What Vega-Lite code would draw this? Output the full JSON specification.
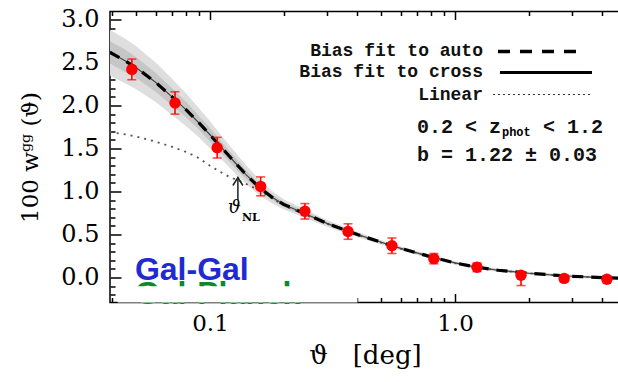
{
  "$schema": "https://vega.github.io/schema/vega-lite/v6.json",
  "width": 510,
  "height": 291,
  "autosize": {"type": "none"},
  "padding": {"left": 110, "top": 11.5, "right": 0, "bottom": 80},
  "background": "white",
  "config": {
    "view": {"stroke": "black", "strokeWidth": 1.5},
    "axis": {"domain": false, "grid": false, "tickColor": "black", "tickWidth": 1.5, "labelColor": "black", "titleColor": "black", "zindex": 1}
  },
  "datasets": {
    "curve": [
      {"theta": 0.039, "w": 2.62, "lo2": 2.35, "hi2": 2.88, "lo1": 2.49, "hi1": 2.75, "lin": 1.69},
      {"theta": 0.045, "w": 2.52, "lo2": 2.26, "hi2": 2.78, "lo1": 2.39, "hi1": 2.65, "lin": 1.665},
      {"theta": 0.05, "w": 2.44, "lo2": 2.19, "hi2": 2.69, "lo1": 2.32, "hi1": 2.56, "lin": 1.64},
      {"theta": 0.06, "w": 2.27, "lo2": 2.04, "hi2": 2.5, "lo1": 2.16, "hi1": 2.38, "lin": 1.58},
      {"theta": 0.07, "w": 2.1, "lo2": 1.89, "hi2": 2.31, "lo1": 2.0, "hi1": 2.2, "lin": 1.52},
      {"theta": 0.08, "w": 1.95, "lo2": 1.76, "hi2": 2.14, "lo1": 1.86, "hi1": 2.04, "lin": 1.46},
      {"theta": 0.09, "w": 1.8, "lo2": 1.63, "hi2": 1.97, "lo1": 1.72, "hi1": 1.88, "lin": 1.39},
      {"theta": 0.1, "w": 1.66, "lo2": 1.5, "hi2": 1.82, "lo1": 1.58, "hi1": 1.74, "lin": 1.3},
      {"theta": 0.11, "w": 1.53, "lo2": 1.39, "hi2": 1.67, "lo1": 1.46, "hi1": 1.6, "lin": 1.23},
      {"theta": 0.12, "w": 1.41, "lo2": 1.28, "hi2": 1.54, "lo1": 1.35, "hi1": 1.47, "lin": 1.17},
      {"theta": 0.13, "w": 1.3, "lo2": 1.18, "hi2": 1.42, "lo1": 1.24, "hi1": 1.36, "lin": 1.13},
      {"theta": 0.14, "w": 1.2, "lo2": 1.09, "hi2": 1.31, "lo1": 1.15, "hi1": 1.25, "lin": 1.09},
      {"theta": 0.16, "w": 1.04, "lo2": 0.95, "hi2": 1.13, "lo1": 1.0, "hi1": 1.08, "lin": 1.01},
      {"theta": 0.18, "w": 0.93, "lo2": 0.86, "hi2": 1.0, "lo1": 0.9, "hi1": 0.96, "lin": 0.92},
      {"theta": 0.2, "w": 0.85, "lo2": 0.79, "hi2": 0.91, "lo1": 0.82, "hi1": 0.88, "lin": 0.84},
      {"theta": 0.25, "w": 0.73, "lo2": 0.68, "hi2": 0.78, "lo1": 0.705, "hi1": 0.755, "lin": 0.72},
      {"theta": 0.3, "w": 0.63, "lo2": 0.59, "hi2": 0.67, "lo1": 0.61, "hi1": 0.65, "lin": 0.625},
      {"theta": 0.35, "w": 0.56, "lo2": 0.525, "hi2": 0.595, "lo1": 0.545, "hi1": 0.575, "lin": 0.555},
      {"theta": 0.4, "w": 0.5, "lo2": 0.47, "hi2": 0.53, "lo1": 0.485, "hi1": 0.515, "lin": 0.495},
      {"theta": 0.5, "w": 0.41, "lo2": 0.385, "hi2": 0.435, "lo1": 0.397, "hi1": 0.423, "lin": 0.405},
      {"theta": 0.6, "w": 0.34, "lo2": 0.315, "hi2": 0.365, "lo1": 0.328, "hi1": 0.352, "lin": 0.336},
      {"theta": 0.8, "w": 0.24, "lo2": 0.218, "hi2": 0.262, "lo1": 0.229, "hi1": 0.251, "lin": 0.237},
      {"theta": 1.0, "w": 0.17, "lo2": 0.15, "hi2": 0.19, "lo1": 0.16, "hi1": 0.18, "lin": 0.168},
      {"theta": 1.2, "w": 0.125, "lo2": 0.105, "hi2": 0.145, "lo1": 0.115, "hi1": 0.135, "lin": 0.123},
      {"theta": 1.5, "w": 0.085, "lo2": 0.066, "hi2": 0.104, "lo1": 0.076, "hi1": 0.094, "lin": 0.083},
      {"theta": 2.0, "w": 0.05, "lo2": 0.032, "hi2": 0.068, "lo1": 0.041, "hi1": 0.059, "lin": 0.049},
      {"theta": 2.5, "w": 0.03, "lo2": 0.013, "hi2": 0.047, "lo1": 0.022, "hi1": 0.038, "lin": 0.029},
      {"theta": 3.0, "w": 0.015, "lo2": -0.002, "hi2": 0.032, "lo1": 0.007, "hi1": 0.023, "lin": 0.014},
      {"theta": 4.0, "w": 0.0, "lo2": -0.016, "hi2": 0.016, "lo1": -0.008, "hi1": 0.008, "lin": 0.0},
      {"theta": 4.72, "w": -0.008, "lo2": -0.024, "hi2": 0.008, "lo1": -0.016, "hi1": 0.0, "lin": -0.008}
    ],
    "points": [
      {"theta": 0.048, "w": 2.42, "lo": 2.3, "hi": 2.54},
      {"theta": 0.072, "w": 2.03, "lo": 1.9, "hi": 2.16},
      {"theta": 0.107, "w": 1.51, "lo": 1.39, "hi": 1.63},
      {"theta": 0.161, "w": 1.06, "lo": 0.95, "hi": 1.17},
      {"theta": 0.244, "w": 0.77, "lo": 0.68, "hi": 0.86},
      {"theta": 0.366, "w": 0.535, "lo": 0.445, "hi": 0.625},
      {"theta": 0.553, "w": 0.37, "lo": 0.28, "hi": 0.46},
      {"theta": 0.82, "w": 0.22, "lo": 0.16, "hi": 0.28},
      {"theta": 1.23, "w": 0.12, "lo": 0.07, "hi": 0.17},
      {"theta": 1.86, "w": 0.027, "lo": -0.093, "hi": 0.06},
      {"theta": 2.79, "w": -0.01, "lo": -0.05, "hi": 0.03},
      {"theta": 4.17, "w": -0.02, "lo": -0.06, "hi": 0.02}
    ]
  },
  "resolve": {"axis": {"x": "independent", "y": "independent"}},
  "layer": [
    {
      "data": {"name": "curve"},
      "mark": {"type": "area", "color": "#dedede", "clip": true},
      "encoding": {
        "x": {"field": "theta", "type": "quantitative",
          "scale": {"type": "log", "domain": [0.03908, 4.716], "nice": false},
          "axis": {"orient": "bottom", "values": [0.04,0.05,0.06,0.07,0.08,0.09,0.1,0.2,0.3,0.4,0.5,0.6,0.7,0.8,0.9,1,2,3,4],
            "tickSize": {"condition": {"test": "abs(datum.value-0.1)<0.001 || abs(datum.value-1)<0.001", "value": -9}, "value": -5},
            "labelExpr": "abs(datum.value-0.1)<0.001 ? '0.1' : (abs(datum.value-1)<0.001 ? '1.0' : '')",
            "labelFont": "DejaVu Serif", "labelFontSize": 23, "labelPadding": 19,
            "title": "ϑ\u00a0\u00a0\u00a0[deg]", "titleFont": "DejaVu Serif", "titleFontSize": 26, "titleFontWeight": "normal", "titlePadding": 7}},
        "y": {"field": "lo2", "type": "quantitative",
          "scale": {"domain": [-0.29, 3.093], "nice": false, "zero": false},
          "axis": {"orient": "left", "values": [-0.2,-0.1,0,0.1,0.2,0.3,0.4,0.5,0.6,0.7,0.8,0.9,1,1.1,1.2,1.3,1.4,1.5,1.6,1.7,1.8,1.9,2,2.1,2.2,2.3,2.4,2.5,2.6,2.7,2.8,2.9,3],
            "tickSize": {"condition": {"test": "abs(datum.value*2-round(datum.value*2))<0.01", "value": -11}, "value": -5},
            "labelExpr": "abs(datum.value*2-round(datum.value*2))<0.01 && datum.value>-0.01 ? format(datum.value, '.1f') : ''",
            "labelFont": "DejaVu Serif", "labelFontSize": 24, "labelPadding": 22,
            "title": "100 wᵍᵍ (ϑ)", "titleFont": "DejaVu Serif", "titleFontSize": 23, "titleFontWeight": "normal", "titlePadding": 18}},
        "y2": {"field": "hi2"}
      }
    },
    {
      "data": {"name": "curve"},
      "mark": {"type": "area", "color": "#c6c6c6", "clip": true},
      "encoding": {
        "x": {"field": "theta", "type": "quantitative", "scale": {"type": "log", "domain": [0.03908, 4.716], "nice": false},
          "axis": {"orient": "top", "values": [0.04,0.05,0.06,0.07,0.08,0.09,0.1,0.2,0.3,0.4,0.5,0.6,0.7,0.8,0.9,1,2,3,4],
            "tickSize": {"condition": {"test": "abs(datum.value-0.1)<0.001 || abs(datum.value-1)<0.001", "value": -8}, "value": -4},
            "labels": false, "title": null}},
        "y": {"field": "lo1", "type": "quantitative", "scale": {"domain": [-0.29, 3.093], "nice": false, "zero": false}, "axis": null},
        "y2": {"field": "hi1"}
      }
    },
    {
      "data": {"name": "curve"},
      "mark": {"type": "line", "color": "#555555", "strokeWidth": 1.8, "strokeDash": [2, 5], "clip": true},
      "encoding": {
        "x": {"field": "theta", "type": "quantitative", "scale": {"type": "log", "domain": [0.03908, 4.716], "nice": false}, "axis": null},
        "y": {"field": "lin", "type": "quantitative", "scale": {"domain": [-0.29, 3.093], "nice": false, "zero": false}, "axis": null}
      }
    },
    {
      "data": {"name": "curve"},
      "mark": {"type": "line", "color": "#444444", "strokeWidth": 1.2, "clip": true},
      "encoding": {
        "x": {"field": "theta", "type": "quantitative", "scale": {"type": "log", "domain": [0.03908, 4.716], "nice": false}, "axis": null},
        "y": {"field": "w", "type": "quantitative", "scale": {"domain": [-0.29, 3.093], "nice": false, "zero": false}, "axis": null}
      }
    },
    {
      "data": {"name": "curve"},
      "mark": {"type": "line", "color": "black", "strokeWidth": 3.2, "strokeDash": [11, 8], "clip": true},
      "encoding": {
        "x": {"field": "theta", "type": "quantitative", "scale": {"type": "log", "domain": [0.03908, 4.716], "nice": false}, "axis": null},
        "y": {"field": "w", "type": "quantitative", "scale": {"domain": [-0.29, 3.093], "nice": false, "zero": false}, "axis": null}
      }
    },
    {
      "data": {"name": "points"},
      "mark": {"type": "rule", "color": "#ff0000", "strokeWidth": 1.6},
      "encoding": {
        "x": {"field": "theta", "type": "quantitative", "scale": {"type": "log", "domain": [0.03908, 4.716], "nice": false}, "axis": null},
        "y": {"field": "lo", "type": "quantitative", "scale": {"domain": [-0.29, 3.093], "nice": false, "zero": false}, "axis": null},
        "y2": {"field": "hi"}
      }
    },
    {
      "data": {"name": "points"},
      "mark": {"type": "tick", "color": "#ff0000", "orient": "horizontal", "size": 9, "thickness": 1.6},
      "encoding": {
        "x": {"field": "theta", "type": "quantitative", "scale": {"type": "log", "domain": [0.03908, 4.716], "nice": false}, "axis": null},
        "y": {"field": "lo", "type": "quantitative", "scale": {"domain": [-0.29, 3.093], "nice": false, "zero": false}, "axis": null}
      }
    },
    {
      "data": {"name": "points"},
      "mark": {"type": "tick", "color": "#ff0000", "orient": "horizontal", "size": 9, "thickness": 1.6},
      "encoding": {
        "x": {"field": "theta", "type": "quantitative", "scale": {"type": "log", "domain": [0.03908, 4.716], "nice": false}, "axis": null},
        "y": {"field": "hi", "type": "quantitative", "scale": {"domain": [-0.29, 3.093], "nice": false, "zero": false}, "axis": null}
      }
    },
    {
      "data": {"name": "points"},
      "mark": {"type": "circle", "color": "#ff0000", "size": 130, "opacity": 1},
      "encoding": {
        "x": {"field": "theta", "type": "quantitative", "scale": {"type": "log", "domain": [0.03908, 4.716], "nice": false}, "axis": null},
        "y": {"field": "w", "type": "quantitative", "scale": {"domain": [-0.29, 3.093], "nice": false, "zero": false}, "axis": null}
      }
    },
    {
      "data": {"values": [{"x": 0.13, "y0": 0.9, "y1": 1.163}]},
      "mark": {"type": "rule", "color": "#222222", "strokeWidth": 1.5},
      "encoding": {
        "x": {"field": "x", "type": "quantitative", "scale": {"type": "log", "domain": [0.03908, 4.716], "nice": false}, "axis": null},
        "y": {"field": "y0", "type": "quantitative", "scale": {"domain": [-0.29, 3.093], "nice": false, "zero": false}, "axis": null},
        "y2": {"field": "y1"}
      }
    },
    {
      "data": {"values": [{"x": 0.13, "y": 1.163}]},
      "mark": {"type": "point", "shape": "M-1,1.6L0,0L1,1.6", "size": 100, "filled": false, "stroke": "#222222", "strokeWidth": 1.5, "opacity": 1},
      "encoding": {
        "x": {"field": "x", "type": "quantitative", "scale": {"type": "log", "domain": [0.03908, 4.716], "nice": false}, "axis": null},
        "y": {"field": "y", "type": "quantitative", "scale": {"domain": [-0.29, 3.093], "nice": false, "zero": false}, "axis": null}
      }
    },
    {
      "data": {"values": [{"x": 0.1184, "y": 0.814, "t": "ϑ"}]},
      "mark": {"type": "text", "font": "DejaVu Serif", "fontSize": 18, "fontStyle": "italic", "align": "left", "baseline": "middle", "color": "black"},
      "encoding": {
        "x": {"field": "x", "type": "quantitative", "scale": {"type": "log", "domain": [0.03908, 4.716], "nice": false}, "axis": null},
        "y": {"field": "y", "type": "quantitative", "scale": {"domain": [-0.29, 3.093], "nice": false, "zero": false}, "axis": null},
        "text": {"field": "t"}
      }
    },
    {
      "data": {"values": [{"x": 0.1351, "y": 0.698, "t": "NL"}]},
      "mark": {"type": "text", "font": "DejaVu Serif", "fontSize": 11, "fontWeight": "bold", "align": "left", "baseline": "middle", "color": "black"},
      "encoding": {
        "x": {"field": "x", "type": "quantitative", "scale": {"type": "log", "domain": [0.03908, 4.716], "nice": false}, "axis": null},
        "y": {"field": "y", "type": "quantitative", "scale": {"domain": [-0.29, 3.093], "nice": false, "zero": false}, "axis": null},
        "text": {"field": "t"}
      }
    },
    {
      "data": {"values": [{"x": 1.301, "y": 2.628, "t": "Bias fit to auto"}, {"x": 1.301, "y": 2.384, "t": "Bias fit to cross"}, {"x": 1.301, "y": 2.128, "t": "Linear"}]},
      "mark": {"type": "text", "font": "Liberation Mono", "fontSize": 18, "fontWeight": "bold", "align": "right", "baseline": "middle", "color": "#111111"},
      "encoding": {
        "x": {"field": "x", "type": "quantitative", "scale": {"type": "log", "domain": [0.03908, 4.716], "nice": false}, "axis": null},
        "y": {"field": "y", "type": "quantitative", "scale": {"domain": [-0.29, 3.093], "nice": false, "zero": false}, "axis": null},
        "text": {"field": "t"}
      }
    },
    {
      "data": {"values": [{"x": 1.498, "x2": 3.148, "y": 2.628}]},
      "mark": {"type": "rule", "color": "black", "strokeWidth": 3.3, "strokeDash": [12, 10]},
      "encoding": {
        "x": {"field": "x", "type": "quantitative", "scale": {"type": "log", "domain": [0.03908, 4.716], "nice": false}, "axis": null},
        "x2": {"field": "x2"},
        "y": {"field": "y", "type": "quantitative", "scale": {"domain": [-0.29, 3.093], "nice": false, "zero": false}, "axis": null}
      }
    },
    {
      "data": {"values": [{"x": 1.526, "x2": 3.624, "y": 2.384}]},
      "mark": {"type": "rule", "color": "black", "strokeWidth": 3},
      "encoding": {
        "x": {"field": "x", "type": "quantitative", "scale": {"type": "log", "domain": [0.03908, 4.716], "nice": false}, "axis": null},
        "x2": {"field": "x2"},
        "y": {"field": "y", "type": "quantitative", "scale": {"domain": [-0.29, 3.093], "nice": false, "zero": false}, "axis": null}
      }
    },
    {
      "data": {"values": [{"x": 1.429, "x2": 3.624, "y": 2.128}]},
      "mark": {"type": "rule", "color": "#333333", "strokeWidth": 1.2, "strokeDash": [2, 3]},
      "encoding": {
        "x": {"field": "x", "type": "quantitative", "scale": {"type": "log", "domain": [0.03908, 4.716], "nice": false}, "axis": null},
        "x2": {"field": "x2"},
        "y": {"field": "y", "type": "quantitative", "scale": {"domain": [-0.29, 3.093], "nice": false, "zero": false}, "axis": null}
      }
    },
    {
      "data": {"values": [{"x": 0.6998, "y": 1.756, "t": "0.2 < z"}, {"x": 2.287, "y": 1.756, "t": "< 1.2"}, {"x": 0.6998, "y": 1.43, "t": "b = 1.22 ± 0.03"}]},
      "mark": {"type": "text", "font": "Liberation Mono", "fontSize": 20, "fontWeight": "bold", "align": "left", "baseline": "middle", "color": "#111111"},
      "encoding": {
        "x": {"field": "x", "type": "quantitative", "scale": {"type": "log", "domain": [0.03908, 4.716], "nice": false}, "axis": null},
        "y": {"field": "y", "type": "quantitative", "scale": {"domain": [-0.29, 3.093], "nice": false, "zero": false}, "axis": null},
        "text": {"field": "t"}
      }
    },
    {
      "data": {"values": [{"x": 1.555, "y": 1.69, "t": "phot"}]},
      "mark": {"type": "text", "font": "Liberation Mono", "fontSize": 12, "fontWeight": "bold", "align": "left", "baseline": "middle", "color": "black"},
      "encoding": {
        "x": {"field": "x", "type": "quantitative", "scale": {"type": "log", "domain": [0.03908, 4.716], "nice": false}, "axis": null},
        "y": {"field": "y", "type": "quantitative", "scale": {"domain": [-0.29, 3.093], "nice": false, "zero": false}, "axis": null},
        "text": {"field": "t"}
      }
    },
    {
      "data": {"values": [{"x": 0.0494, "y": -0.02, "t": "Gal-Planck"}]},
      "mark": {"type": "text", "font": "Liberation Sans", "fontSize": 32, "fontWeight": "bold", "align": "left", "baseline": "top", "color": "#0a8a2a"},
      "encoding": {
        "x": {"field": "x", "type": "quantitative", "scale": {"type": "log", "domain": [0.03908, 4.716], "nice": false}, "axis": null},
        "y": {"field": "y", "type": "quantitative", "scale": {"domain": [-0.29, 3.093], "nice": false, "zero": false}, "axis": null},
        "text": {"field": "t"}
      }
    },
    {
      "data": {"values": [{"x": 0.042, "x2": 0.4, "y": -0.29, "y2": -0.1}]},
      "mark": {"type": "rect", "color": "white", "opacity": 1},
      "encoding": {
        "x": {"field": "x", "type": "quantitative", "scale": {"type": "log", "domain": [0.03908, 4.716], "nice": false}, "axis": null},
        "x2": {"field": "x2"},
        "y": {"field": "y", "type": "quantitative", "scale": {"domain": [-0.29, 3.093], "nice": false, "zero": false}, "axis": null},
        "y2": {"field": "y2"}
      }
    },
    {
      "data": {"values": [{"x": 0.0494, "y": 0.093, "t": "Gal-Gal"}]},
      "mark": {"type": "text", "font": "Liberation Sans", "fontSize": 32, "fontWeight": "bold", "align": "left", "baseline": "middle", "color": "#1f2bd2"},
      "encoding": {
        "x": {"field": "x", "type": "quantitative", "scale": {"type": "log", "domain": [0.03908, 4.716], "nice": false}, "axis": null},
        "y": {"field": "y", "type": "quantitative", "scale": {"domain": [-0.29, 3.093], "nice": false, "zero": false}, "axis": null},
        "text": {"field": "t"}
      }
    }
  ]
}
